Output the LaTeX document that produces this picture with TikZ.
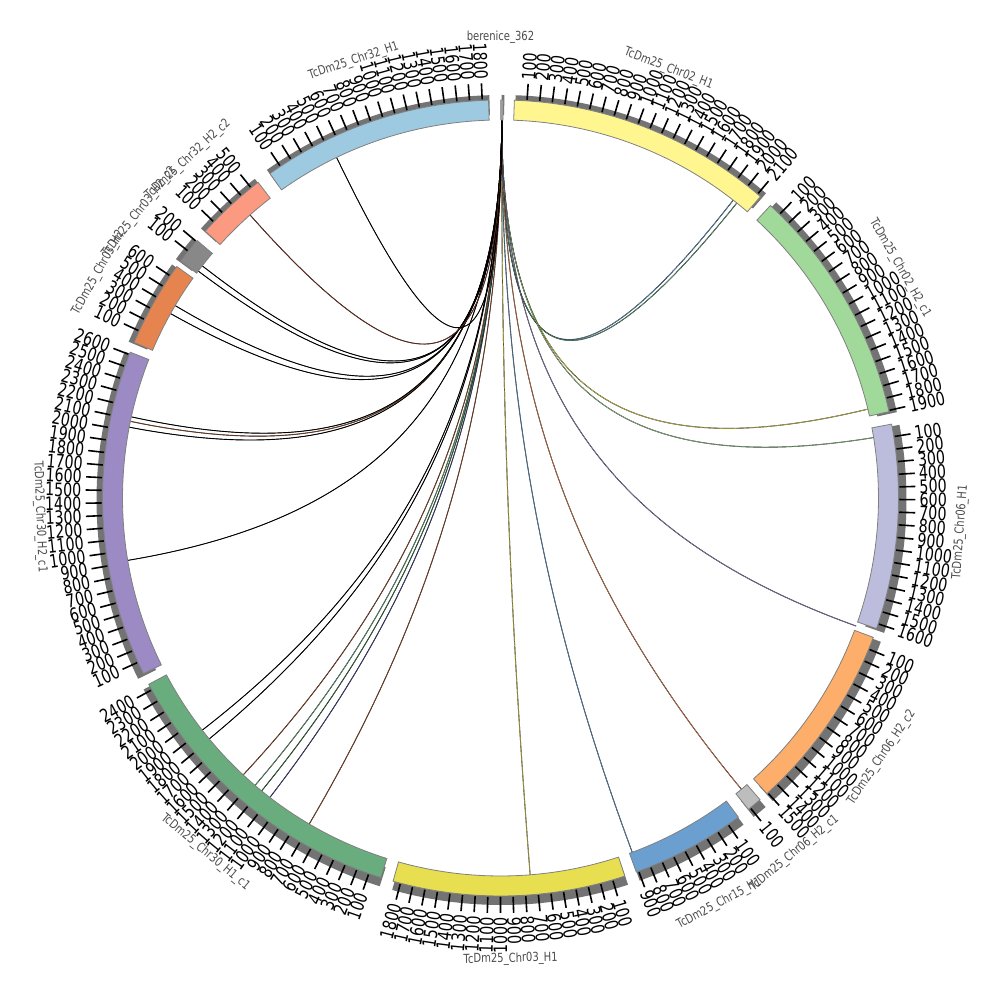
\documentclass[tikz,border=0pt]{standalone}
\usepackage{fontspec}
\usetikzlibrary{calc}
\newfontfamily\tickfont[FakeStretch=0.77]{DejaVu Sans}
\newfontfamily\namefont[FakeStretch=0.8]{DejaVu Sans}
\definecolor{c02a}{HTML}{FFF68F}
\definecolor{c02b}{HTML}{A1D99B}
\definecolor{c06a}{HTML}{BCBDDC}
\definecolor{c06b}{HTML}{BDBDBD}
\definecolor{c06c}{HTML}{FDAE6B}
\definecolor{c15}{HTML}{6A9FCF}
\definecolor{c03a}{HTML}{E8DF50}
\definecolor{c30a}{HTML}{69AD7E}
\definecolor{c30b}{HTML}{9B8AC3}
\definecolor{c03b}{HTML}{E5844F}
\definecolor{c03c}{HTML}{888888}
\definecolor{c32b}{HTML}{FB9A80}
\definecolor{c32a}{HTML}{9ECAE1}
\definecolor{cber}{HTML}{9E9E9E}
\definecolor{lkbrown}{HTML}{A0522D}
\definecolor{lkgreen}{HTML}{3A7D44}
\definecolor{lknavy}{HTML}{4B4B8F}
\definecolor{lkred}{HTML}{8B3A2A}

\begin{document}
\begin{tikzpicture}[x=1pt,y=1pt]
\tikzset{ideo/.style={draw=black!50,line width=0.8pt},
band/.style={fill=black!55},
tickmark/.style={line width=1.6pt},
ticklabel/.style={font=\tickfont\fontsize{18.5}{18.5}\selectfont,inner sep=0pt},
chrname/.style={font=\namefont\fontsize{12.5}{12.5}\selectfont,text=black!70,inner sep=0pt,anchor=center},
link/.style={draw=black,line width=0.22pt,double distance=0.45pt}}
\useasboundingbox (-500.5,-502) rectangle (499.5,498);
\def\sc{0.0182}
\coordinate (o) at (0,0);
% links, all from berenice_362
\coordinate (src) at (89.8:378);
\foreach \a/\c [count=\i] in {38.0/c15,38.7/c30a,76.4/c03a,80.8/c02b,109.8/c30b,140.4/c03b,159.6/c15,175.5/c03a,210.4/lkbrown,217.6/lknavy,219.2/lkgreen,220.5/c30a,222.9/lkbrown,230.4/black,232.1/black,260.5/black,280.8/black,281.7/lkbrown,282.4/black,299.2/black,300.6/black,306.9/black,307.9/black,318.5/lkred,334.3/black}{
\coordinate (t\i) at ({90-\a}:378);
\draw[link,double=\c] (src) .. controls ($(src)!0.7!(o)$) and ($(t\i)!0.7!(o)$) .. (t\i);
}
% berenice_362
\fill[band,shift={(1,-2)}] (90:385) -- (90:405) arc[start angle=90,end angle=89.6,radius=405] -- (89.6:385) arc[start angle=89.6,end angle=90,radius=385] -- cycle;
\draw[ideo,fill=cber,line width=0.5pt] (90:378) -- (90:398) arc[start angle=90,end angle=89.6,radius=398] -- (89.6:378) arc[start angle=89.6,end angle=90,radius=378] -- cycle;
\node[chrname] (lab-ber) at (90:461) {berenice\_362};
% ideograms with ticks
\foreach \s/\l/\c/\n/\t in {2.0/2130/c02a/chrA/TcDm25\_Chr02\_H1,
42.7/1910/c02b/chrB/TcDm25\_Chr02\_H2\_c1,
79.3/1640/c06a/chrC/TcDm25\_Chr06\_H1,
110.5/1510/c06c/chrD/TcDm25\_Chr06\_H2\_c2,
139.3/120/c06b/chrE/TcDm25\_Chr06\_H2\_c1,
143.3/920/c15/chrF/TcDm25\_Chr15\_H1,
161.8/1860/c03a/chrG/TcDm25\_Chr03\_H1,
197.5/2450/c30a/chrH/TcDm25\_Chr30\_H1\_c1,
243.8/2620/c30b/chrI/TcDm25\_Chr30\_H2\_c1,
293.0/690/c03b/chrJ/TcDm25\_Chr03\_H2,
306.5/210/c03c/chrK/TcDm25\_Chr03\_H2\_c2,
312.1/570/c32b/chrL/TcDm25\_Chr32\_H2\_c2,
324.6/1850/c32a/chrM/TcDm25\_Chr32\_H1}{
\pgfmathsetmacro\e{\s+\l*\sc}
\pgfmathsetmacro\ta{90-\s}
\pgfmathsetmacro\tb{90-\e}
\pgfmathsetmacro\tm{90-(\s+\e)/2}
\pgfmathsetmacro\nr{mod(\tm+720,180)-90}
\pgfmathtruncatemacro\nt{\l/100}
\fill[band,shift={(1,-2)}] (\ta:385) -- (\ta:405) arc[start angle=\ta,end angle=\tb,radius=405] -- (\tb:385) arc[start angle=\tb,end angle=\ta,radius=385] -- cycle;
\draw[ideo,fill=\c] (\ta:378) -- (\ta:398) arc[start angle=\ta,end angle=\tb,radius=398] -- (\tb:378) arc[start angle=\tb,end angle=\ta,radius=378] -- cycle;
\foreach \k in {1,...,\nt}{
\pgfmathsetmacro\ang{90-\s-\k*100*\sc}
\pgfmathsetmacro\rot{\ang>-90 ? \ang : \ang+180}
\pgfmathtruncatemacro\v{\k*100}
\ifdim\ang pt>-90pt \def\anc{west}\else\def\anc{east}\fi
\draw[tickmark] (\ang:399) -- (\ang:415);
\node[ticklabel,rotate=\rot,anchor=\anc] (\n-\k) at (\ang:419) {\v};
}
\node[chrname,rotate=\nr] (lab-\n) at (\tm:461) {\t};
}
\end{tikzpicture}
\end{document}
